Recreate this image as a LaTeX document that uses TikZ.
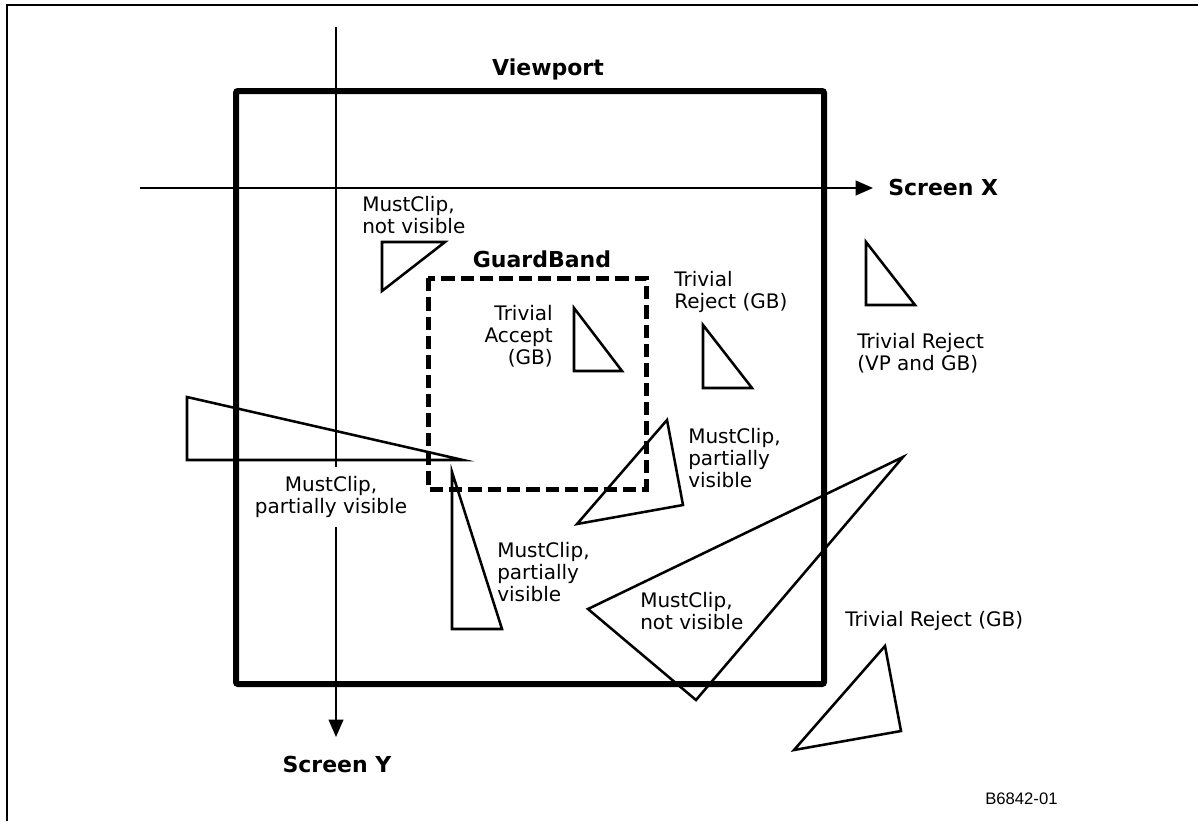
\documentclass[tikz,border=0pt]{standalone}
\usepackage{fontspec}
\setmainfont{DejaVu Sans}
\newfontfamily\tagfont{Liberation Sans}
\usetikzlibrary{arrows.meta}

\tikzset{
  lbl/.style={inner sep=0pt, font=\fontsize{15pt}{16.5pt}\selectfont},
  hdr/.style={inner sep=0pt, font=\fontsize{16.5pt}{18pt}\selectfont\bfseries},
  tri/.style={line width=1.9pt},
  axis/.style={line width=1.5pt, -{Triangle[length=13pt,width=11pt]}},
}

\begin{document}
\begin{tikzpicture}[x=0.75pt, y=-0.75pt]
  \useasboundingbox (0,0) rectangle (1198,821);

  % frame (left and top edges only)
  \draw[line width=2.2pt] (7,821) -- (7,5) -- (1198,5);

  % viewport and guard band
  \draw[line width=4.5pt, rounded corners=1.5pt] (236,91) rectangle (824,684);
  \draw[line width=3.75pt, dash pattern=on 10pt off 4.5pt] (428,278) rectangle (646,489);
  \node[hdr, anchor=base] (vp) at (548,75) {Viewport};
  \node[hdr, anchor=base] (gb) at (542,267) {GuardBand};

  % screen axes
  \coordinate (xstart) at (140,188);
  \coordinate (xend) at (873,188);
  \coordinate (ystart) at (336,27);
  \coordinate (yend) at (336,737);
  \draw[axis] (xstart) -- (xend);
  \draw[axis] (ystart) -- (yend);
  \node[hdr, anchor=base west] (sx) at (888,195) {Screen X};
  \node[hdr, anchor=base] (sy) at (337,772) {Screen Y};

  % triangles inside the viewport
  \draw[tri] (382,242) -- (445,242) -- (382,291) -- cycle;
  \draw[tri] (574,308) -- (574,371) -- (622,371) -- cycle;
  \draw[tri] (703,325) -- (703,388) -- (752,388) -- cycle;
  \draw[tri] (187,397) -- (187,460) -- (463,460) -- cycle;
  \draw[tri] (452,472) -- (452,629) -- (502,629) -- cycle;
  \draw[tri] (667,420) -- (683,505) -- (577,524) -- cycle;
  \draw[tri] (903,457) -- (588,609) -- (696,700) -- cycle;

  % triangles outside the viewport
  \draw[tri] (866,242) -- (866,305) -- (915,305) -- cycle;
  \draw[tri] (885,646) -- (901,731) -- (794,750) -- cycle;

  % labels
  \node[lbl, anchor=west, align=left] (mcnv1) at (362,215) {MustClip,\\not visible};
  \node[lbl, anchor=east, align=right] (tacc) at (553,336) {Trivial\\Accept\\(GB)};
  \node[lbl, anchor=west, align=left] (trgb1) at (674,292) {Trivial\\Reject (GB)};
  \node[lbl, anchor=west, align=left] (trvp) at (857,353) {Trivial Reject\\(VP and GB)};
  \node[lbl, align=center, fill=white, inner xsep=2pt, inner ysep=7pt] (mcpv1) at (331,497) {MustClip,\\partially visible};
  \node[lbl, anchor=west, align=left] (mcpv2) at (497,572) {MustClip,\\partially\\visible};
  \node[lbl, anchor=west, align=left] (mcpv3) at (688,458) {MustClip,\\partially\\visible};
  \node[lbl, anchor=west, align=left] (mcnv2) at (640,611) {MustClip,\\not visible};
  \node[lbl, anchor=base west] (trgb2) at (845,626) {Trivial Reject (GB)};
  \node[anchor=base west, inner sep=0pt, font=\tagfont\fontsize{12.5pt}{14pt}\selectfont] (fig) at (985,804) {B6842-01};
\end{tikzpicture}
\end{document}
